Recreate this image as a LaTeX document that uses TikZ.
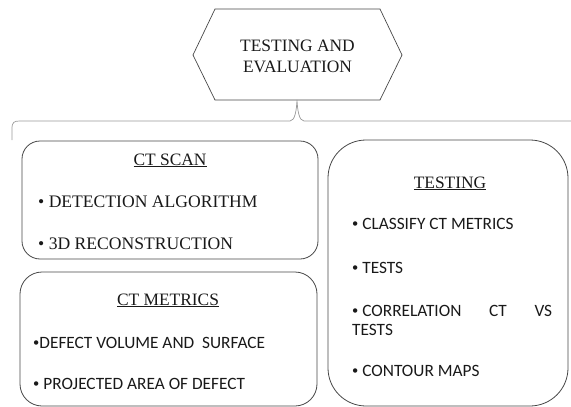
\documentclass[tikz,border=0pt]{standalone}
\usepackage{fontspec}
\setmainfont{Liberation Serif}
\newfontfamily\bodysans{Carlito}
% small bullet for the sans-serif lists
\newcommand{\sbul}{\raisebox{1.3pt}{\fontsize{12.5}{12.5}\selectfont •}}
\begin{document}
\begin{tikzpicture}[x=1pt,y=-1pt,
  frame/.style={draw=black!72,line width=0.8pt},
  serifitem/.style={inner sep=0pt,anchor=base west,font=\fontsize{17.6}{21}\selectfont,text=black!90},
  sansitem/.style={inner sep=0pt,anchor=base west,font=\bodysans\fontsize{17.3}{21}\selectfont,text=black!90},
  heading/.style={inner sep=0pt,anchor=base,font=\fontsize{17.4}{21}\selectfont,text=black!90}]
\useasboundingbox (0,0) rectangle (571,407);

% hexagon holding the title
\coordinate (hl) at (193,55);
\coordinate (hr) at (402,55);
\draw[frame,line width=0.7pt] (hl) -- (215,9) -- (380,9) -- (hr) -- (380,100) -- (215,100) -- cycle;
\node[heading] (title1) at (297.5,51) {TESTING AND};
\node[heading] (title2) at (297.5,72) {EVALUATION};

% brace grouping the three boxes
\coordinate (bl) at (12,140);
\coordinate (tip) at (297,100);
\coordinate (br) at (571,121);
\draw[black!40,line width=0.7pt] (bl) -- (12,129) .. controls (12,122) and (14,121) .. (20,121)
  -- (290,121) .. controls (295,121) and (296.5,110) .. (tip)
  .. controls (297.5,110) and (299,121) .. (304,121) -- (br);

% CT scan box
\draw[frame,rounded corners=18pt] (22,141) rectangle (318,259);
\node[heading] (scan) at (170,165) {\underline{CT SCAN}};
\node[serifitem] (scan1) at (38,207) {• DETECTION ALGORITHM};
\node[serifitem] (scan2) at (38,249) {• 3D RECONSTRUCTION};

% CT metrics box
\draw[frame,rounded corners=22pt] (20,272) rectangle (317,406);
\node[heading] (metrics) at (168,305) {\underline{CT METRICS}};
\node[sansitem] (met1) at (33,348) {\sbul DEFECT VOLUME AND\ \ SURFACE};
\node[sansitem] (met2) at (33,389) {\sbul\ PROJECTED AREA OF DEFECT};

% testing box
\draw[frame,rounded corners=38pt] (328,140) rectangle (568,406);
\node[heading] (testing) at (450,188) {\underline{TESTING}};
\node[sansitem] (tst1) at (352,229) {\sbul\ CLASSIFY CT METRICS};
\node[sansitem] (tst2) at (352,273) {\sbul\ TESTS};
\node[sansitem] (tst3) at (352,316) {\hbox to 200pt{\sbul\ CORRELATION\hfill CT\hfill VS}};
\node[sansitem] (tst3b) at (352,335) {TESTS};
\node[sansitem] (tst4) at (352,376) {\sbul\ CONTOUR MAPS};
\end{tikzpicture}
\end{document}
